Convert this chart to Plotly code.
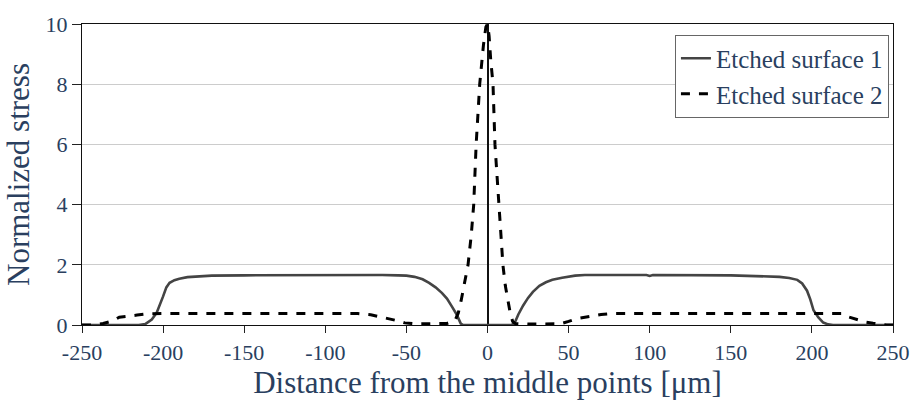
import plotly.graph_objects as go

# Etched surface 1 (solid)
x_s1 = [-250, -230, -215, -211, -207, -204, -202, -200, -198, -196, -193, -190, -185, -178, -170,
        -150, -120, -100, -80, -65, -55, -50, -45, -40, -36, -32, -28, -25, -22, -19, -16.5, -15,
        0, 15, 17, 19, 22, 25, 28, 32, 36, 40, 46, 54, 60, 70, 98, 100, 102, 150, 170, 180, 186,
        191, 194, 197, 199, 201, 204, 207, 210, 213, 220, 235, 250]
y_s1 = [0, 0, 0, 0.03, 0.18, 0.4, 0.65, 0.95, 1.25, 1.4, 1.49, 1.54, 1.59, 1.62, 1.64,
        1.65, 1.66, 1.66, 1.66, 1.66, 1.65, 1.64, 1.6, 1.52, 1.4, 1.25, 1.06, 0.88, 0.62, 0.35, 0.05, 0,
        0, 0, 0.1, 0.35, 0.65, 0.9, 1.1, 1.3, 1.42, 1.5, 1.57, 1.64, 1.66, 1.66, 1.66, 1.63, 1.66, 1.65, 1.63, 1.6, 1.56,
        1.5, 1.38, 1.14, 0.85, 0.49, 0.25, 0.08, 0.02, 0, 0, 0, 0]

# Etched surface 2 (dashed)
x_s2 = [-250, -243, -237, -231, -227, -222, -216, -210, -200, -150, -100, -80, -72, -67, -62, -57,
        -51, -45, -35, -25, -20, -18, -16.3, -14, -12, -10, -8.5, -7, -4.8, -2.5, -1, 0, 1, 2, 3.4,
        4.6, 6.9, 8.2, 9.5, 11, 12.6, 14, 15.5, 17, 25, 40, 45, 50, 55.5, 63.5, 70, 76, 100, 150,
        200, 219, 223, 229, 233, 237.7, 242, 246, 250]
y_s2 = [0, 0, 0.05, 0.14, 0.26, 0.3, 0.33, 0.37, 0.38, 0.38, 0.38, 0.38, 0.34, 0.29, 0.22, 0.16,
        0.07, 0.04, 0.04, 0.05, 0.15, 0.4, 0.8, 1.4, 2.0, 3.0, 4.0, 6.0, 8.0, 9.3, 9.9, 10.0, 9.6, 8.8, 8.0,
        6.0, 4.0, 3.0, 2.0, 1.3, 0.8, 0.4, 0.12, 0.05, 0.03, 0.03, 0.04, 0.12, 0.22, 0.29, 0.35, 0.38, 0.38, 0.38,
        0.38, 0.38, 0.26, 0.16, 0.1, 0.06, 0.02, 0, 0]

x_ticks = [-250, -200, -150, -100, -50, 0, 50, 100, 150, 200, 250]
x_labels = ["-250", "-200", "-150", "-100", "-50", "0", "50", "100", "150", "200", "250"]
y_ticks = [0, 2, 4, 6, 8, 10]

FONT = "Liberation Serif"

fig = go.Figure()
fig.add_trace(go.Scatter(x=x_s1, y=y_s1, mode="lines", name="Etched surface 1",
                         line=dict(color="#444444", width=2.6)))
fig.add_trace(go.Scatter(x=x_s2, y=y_s2, mode="lines", name="Etched surface 2",
                         line=dict(color="#000000", width=3, dash="dash")))

fig.update_layout(
    width=922, height=410,
    margin=dict(l=82, r=25, t=17, b=85),
    paper_bgcolor="white", plot_bgcolor="white",
    showlegend=True,
    legend=dict(x=0.995, xanchor="right", y=0.965, yanchor="top",
                bgcolor="white", bordercolor="#666666", borderwidth=1,
                font=dict(family=FONT, size=25),
                tracegroupgap=0),
    xaxis=dict(range=[-250, 250], tickvals=x_ticks, ticktext=x_labels,
               ticks="outside", ticklen=7, tickwidth=1, tickcolor="#222222",
               showline=True, linecolor="#111111", linewidth=1.3, mirror=True,
               showgrid=False, zeroline=True, zerolinecolor="#111111", zerolinewidth=1.5,
               tickfont=dict(family=FONT, size=22),
               title=dict(text="Distance from the middle points [\u03bcm]",
                          font=dict(family=FONT, size=31), standoff=0)),
    yaxis=dict(range=[0, 10], tickvals=y_ticks,
               ticks="outside", ticklen=9, tickwidth=1, tickcolor="#222222",
               showline=True, linecolor="#111111", linewidth=1.3, mirror=True,
               showgrid=True, gridcolor="#cccccc", gridwidth=1,
               zeroline=False,
               tickfont=dict(family=FONT, size=22),
               title=dict(text="Normalized stress",
                          font=dict(family=FONT, size=31), standoff=6)),
)

fig.write_html("out.html")
